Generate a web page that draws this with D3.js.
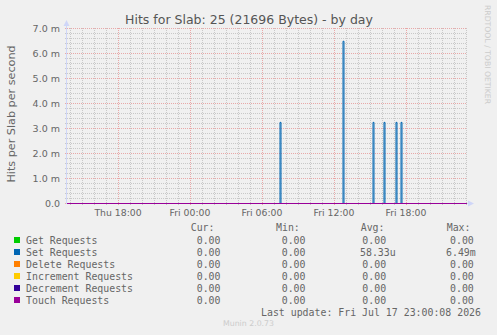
<!DOCTYPE html>
<html>
<head>
<meta charset="utf-8">
<script src="https://cdn.jsdelivr.net/npm/d3@7"></script>
<style>
  html, body { margin: 0; padding: 0; background: #f0f0f0; }
  svg { display: block; }
</style>
</head>
<body>
<div id="chart"></div>
<script>
// Munin memcached "hits for slab" day graph

const seriesNames = ["Get Requests", "Set Requests", "Delete Requests",
  "Increment Requests", "Decrement Requests", "Touch Requests"];
const seriesColors = ["#00cc00", "#0066b3", "#ff8000", "#ffcc00", "#330099", "#990099"];

const curValues = ["0.00", "0.00", "0.00", "0.00", "0.00", "0.00"];
const minValues = ["0.00", "0.00", "0.00", "0.00", "0.00", "0.00"];
const avgValues = ["0.00", "58.33u", "0.00", "0.00", "0.00", "0.00"];
const maxValues = ["0.00", "6.49m", "0.00", "0.00", "0.00", "0.00"];

// Set Requests spikes (all other samples are 0)
const spikeTimes = ["2026-07-17 07:30", "2026-07-17 12:45", "2026-07-17 15:15",
  "2026-07-17 16:10", "2026-07-17 17:10", "2026-07-17 17:35"];
const spikeValues = [3.245e-3, 6.49e-3, 3.245e-3, 3.245e-3, 3.245e-3, 3.245e-3];

const timeStart = "2026-07-16 13:45";
const timeEnd = "2026-07-17 23:05";

const yTicks = [0, 1e-3, 2e-3, 3e-3, 4e-3, 5e-3, 6e-3, 7e-3];
const yTickLabels = ["0.0", "1.0 m", "2.0 m", "3.0 m", "4.0 m", "5.0 m", "6.0 m", "7.0 m"];

const TITLE = "Hits for Slab: 25 (21696 Bytes) - by day";
const Y_LABEL = "Hits per Slab per second";
const LAST_UPDATE = "Last update: Fri Jul 17 23:00:08 2026";

const W = 497, H = 335;
const PLOT = { LEFT: 67, RIGHT: 467, TOP: 28, BOTTOM: 203 };
const FONT_COLOR = "#666666";
const AXIS_COLOR = "#cfd6f8";
const GRID_COLOR = "#c8c8c8";
const MGRID_COLOR = "#e8a8a8";

const parse = d3.timeParse("%Y-%m-%d %H:%M");

const svg = d3.select("#chart").append("svg")
  .attr("width", W)
  .attr("height", H);

svg.append("rect").attr("width", W).attr("height", H).attr("fill", "#f0f0f0");

const x = d3.scaleTime()
  .domain([parse(timeStart), parse(timeEnd)])
  .range([PLOT.LEFT, PLOT.RIGHT]);

const y = d3.scaleLinear()
  .domain([0, 7e-3])
  .range([PLOT.BOTTOM, PLOT.TOP]);

// grid -- minor first, then major on top
const grid = svg.append("g").attr("shape-rendering", "crispEdges");

const yMinor = d3.range(0, 35).map(i => i * 0.2e-3);
grid.selectAll(".ymin").data(yMinor).enter().append("line")
  .attr("x1", PLOT.LEFT - 2).attr("x2", PLOT.RIGHT)
  .attr("y1", d => Math.round(y(d)) + 0.5).attr("y2", d => Math.round(y(d)) + 0.5)
  .attr("stroke", GRID_COLOR).attr("stroke-dasharray", "1,1");

const xMinor = d3.timeHour.every(1).range(x.domain()[0], x.domain()[1]);
grid.selectAll(".xmin").data(xMinor).enter().append("line")
  .attr("x1", d => Math.round(x(d)) + 0.5).attr("x2", d => Math.round(x(d)) + 0.5)
  .attr("y1", PLOT.TOP).attr("y2", PLOT.BOTTOM + 2)
  .attr("stroke", GRID_COLOR).attr("stroke-dasharray", "1,1");

grid.selectAll(".ymaj").data(yTicks).enter().append("line")
  .attr("x1", PLOT.LEFT - 2).attr("x2", PLOT.RIGHT)
  .attr("y1", d => Math.round(y(d)) + 0.5).attr("y2", d => Math.round(y(d)) + 0.5)
  .attr("stroke", MGRID_COLOR).attr("stroke-dasharray", "1,1");

const xMajor = d3.timeHour.every(6).range(x.domain()[0], x.domain()[1]);
grid.selectAll(".xmaj").data(xMajor).enter().append("line")
  .attr("x1", d => Math.round(x(d)) + 0.5).attr("x2", d => Math.round(x(d)) + 0.5)
  .attr("y1", PLOT.TOP).attr("y2", PLOT.BOTTOM + 2)
  .attr("stroke", MGRID_COLOR).attr("stroke-dasharray", "1,1");

// axes lines + arrows
svg.append("line")
  .attr("x1", PLOT.LEFT - 0.5).attr("x2", PLOT.LEFT - 0.5)
  .attr("y1", PLOT.BOTTOM).attr("y2", PLOT.TOP - 4)
  .attr("stroke", AXIS_COLOR);
svg.append("path")
  .attr("d", `M${PLOT.LEFT - 3.5},${PLOT.TOP - 2}L${PLOT.LEFT + 2.5},${PLOT.TOP - 2}L${PLOT.LEFT - 0.5},${PLOT.TOP - 8}Z`)
  .attr("fill", AXIS_COLOR);
svg.append("line")
  .attr("x1", PLOT.LEFT - 1).attr("x2", PLOT.RIGHT + 2)
  .attr("y1", PLOT.BOTTOM + 0.5).attr("y2", PLOT.BOTTOM + 0.5)
  .attr("stroke", AXIS_COLOR);
svg.append("path")
  .attr("d", `M${PLOT.RIGHT + 1},${PLOT.BOTTOM - 2.5}L${PLOT.RIGHT + 1},${PLOT.BOTTOM + 3.5}L${PLOT.RIGHT + 7},${PLOT.BOTTOM + 0.5}Z`)
  .attr("fill", AXIS_COLOR);

// series
const step = 5 * 60 * 1000;
const setData = [[x.domain()[0], 0]];
spikeTimes.forEach((t, i) => {
  const d = parse(t);
  const d2 = new Date(+d + step);
  setData.push([d, 0], [d, spikeValues[i]], [d2, spikeValues[i]], [d2, 0]);
});
setData.push([x.domain()[1], 0]);
const flatData = [[x.domain()[0], 0], [x.domain()[1], 0]];

const line = d3.line()
  .x(d => x(d[0]))
  .y(d => y(d[1]) + 0.5);

seriesNames.forEach((name, i) => {
  svg.append("path")
    .datum(i === 1 ? setData : flatData)
    .attr("d", line)
    .attr("fill", "none")
    .attr("stroke", seriesColors[i])
    .attr("stroke-width", 1);
});

// y tick labels
svg.append("g").selectAll("text").data(yTicks).enter().append("text")
  .attr("x", PLOT.LEFT - 7)
  .attr("y", d => y(d) + 3.5)
  .attr("text-anchor", "end")
  .attr("font-family", "DejaVu Sans")
  .attr("font-size", "9.5px")
  .attr("fill", FONT_COLOR)
  .text((d, i) => yTickLabels[i]);

// x tick labels
const fmt = d3.timeFormat("%a %H:%M");
const xLabels = d3.timeHour.every(6).range(x.domain()[0], x.domain()[1]);
svg.append("g").selectAll("text").data(xLabels).enter().append("text")
  .attr("x", d => x(d))
  .attr("y", 216)
  .attr("text-anchor", "middle")
  .attr("font-family", "DejaVu Sans")
  .attr("font-size", "9.3px")
  .attr("fill", FONT_COLOR)
  .text(d => fmt(d));

// title
svg.append("text")
  .attr("x", 249).attr("y", 24)
  .attr("text-anchor", "middle")
  .attr("font-family", "DejaVu Sans")
  .attr("font-size", "12.5px")
  .attr("fill", "#555555")
  .text(TITLE);

// y label
svg.append("text")
  .attr("transform", `translate(15, 114) rotate(-90)`)
  .attr("text-anchor", "middle")
  .attr("font-family", "DejaVu Sans")
  .attr("font-size", "11.2px")
  .attr("fill", FONT_COLOR)
  .text(Y_LABEL);

// watermark
svg.append("text")
  .attr("transform", `translate(485, 5) rotate(90)`)
  .attr("font-family", "DejaVu Sans")
  .attr("font-size", "7.7px")
  .attr("fill", "#cccccc")
  .text("RRDTOOL / TOBI OETIKER");

// legend
const mono = "DejaVu Sans Mono";
const LEG_FS = "9.9px";
const rowY = i => 244 + i * 12;

const headers = [["Cur:", 190.7], ["Min:", 276], ["Avg:", 360.7], ["Max:", 446.7]];
svg.append("g").selectAll("text").data(headers).enter().append("text")
  .attr("x", d => d[1]).attr("y", 231)
  .attr("font-family", mono).attr("font-size", LEG_FS).attr("fill", FONT_COLOR)
  .text(d => d[0]);

const leg = svg.append("g").selectAll("g").data(seriesNames).enter().append("g");
leg.append("rect")
  .attr("x", 14).attr("y", (d, i) => rowY(i) - 7)
  .attr("width", 6).attr("height", 6)
  .attr("fill", (d, i) => seriesColors[i]);
leg.append("text")
  .attr("x", 26).attr("y", (d, i) => rowY(i))
  .attr("font-family", mono).attr("font-size", LEG_FS).attr("fill", FONT_COLOR)
  .text(d => d);

// value columns: [values, start x for plain numbers, start x for numbers with unit]
const cols = [[curValues, 196.7, 196.7], [minValues, 281.7, 281.7],
  [avgValues, 362.3, 360], [maxValues, 450, 446]];
cols.forEach(([vals, xs, xu]) => {
  svg.append("g").selectAll("text").data(vals).enter().append("text")
    .attr("x", d => /[a-z]$/.test(d) ? xu : xs).attr("y", (d, i) => rowY(i))
    .attr("font-family", mono).attr("font-size", LEG_FS).attr("fill", FONT_COLOR)
    .text(d => d);
});

svg.append("text")
  .attr("x", 261).attr("y", 316)
  .attr("font-family", mono).attr("font-size", LEG_FS).attr("fill", FONT_COLOR)
  .text(LAST_UPDATE);

svg.append("text")
  .attr("x", 248.5).attr("y", 326)
  .attr("text-anchor", "middle")
  .attr("font-family", "DejaVu Sans")
  .attr("font-size", "7.8px")
  .attr("fill", "#cccccc")
  .text("Munin 2.0.73");
</script>
</body>
</html>
